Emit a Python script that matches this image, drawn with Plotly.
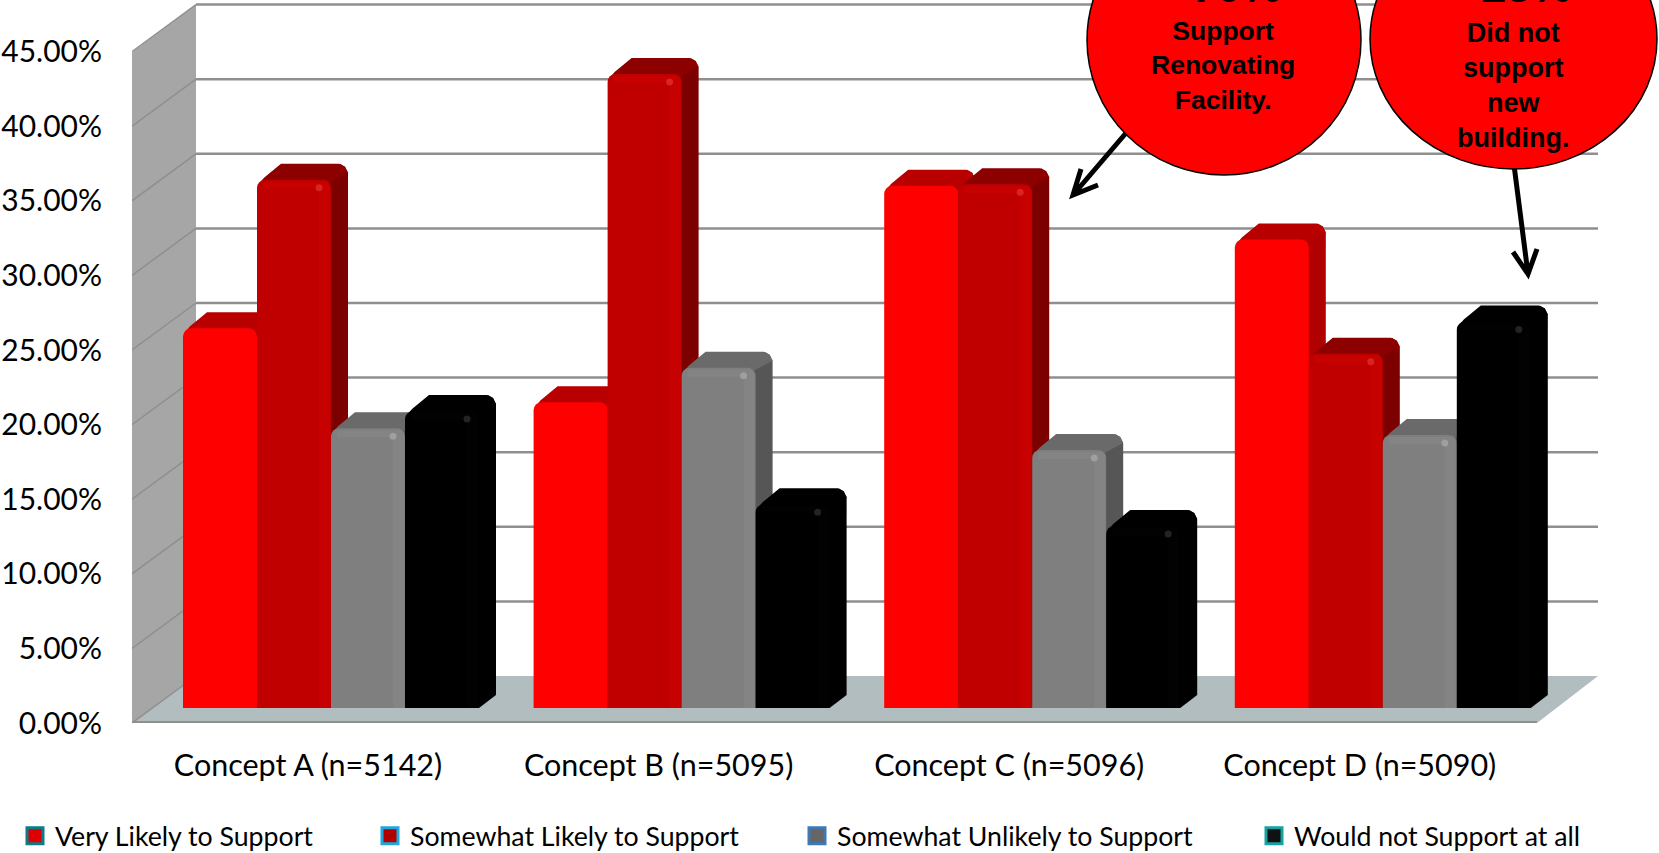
import plotly.graph_objects as go

categories = ["Concept A (n=5142)", "Concept B (n=5095)", "Concept C (n=5096)", "Concept D (n=5090)"]
series_names = ["Very Likely to Support", "Somewhat Likely to Support",
                "Somewhat Unlikely to Support", "Would not Support at all"]
very_likely = [25.45, 20.5, 35.0, 31.4]
somewhat_likely = [35.4, 42.5, 35.1, 23.75]
somewhat_unlikely = [18.75, 22.8, 17.3, 18.3]
not_at_all = [19.9, 13.65, 12.2, 25.9]
tick_values = [0, 5, 10, 15, 20, 25, 30, 35, 40, 45]
tick_labels = ["0.00%", "5.00%", "10.00%", "15.00%", "20.00%", "25.00%", "30.00%", "35.00%", "40.00%", "45.00%"]
all_series = [very_likely, somewhat_likely, somewhat_unlikely, not_at_all]

W, H = 1659, 853
FIG_H = 875  # a little taller than the window so the bottom legend keeps its place
PX_PER_UNIT = 14.92
BASE_PX = 708.0
PERIOD = 350.6
BAR_W = 74.0
GROUP_CENTER = 331.0
DX, DY = 17.0, 16.0
LEFT, FLOOR = 132, 723

front_col = ["#ff0000", "#c00000", "#7f7f7f", "#000000"]
bevel_col = ["#ff0000", "#c70000", "#848484", "#020202"]
top_col = ["#b80000", "#8c0000", "#6a6a6a", "#000000"]
side_col = ["#b00000", "#7c0000", "#565656", "#000000"]
spot_col = ["#ff0000", "#e83a3a", "#b0b0b0", "#3a3a3a"]
legend_fill = ["#e00000", "#b00000", "#666666", "#111111"]
legend_edge = ["#0e7c86", "#1fa8e0", "#3f78b5", "#17a2a2"]
legend_left = [15, 370, 797, 1254]


def X(p):
    return (p - GROUP_CENTER) / PERIOD


def Y(p):
    return (BASE_PX - p) / PX_PER_UNIT


def path(points):
    return "M" + " L".join(f"{X(a):.5f},{Y(b):.5f}" for a, b in points)


x_range = [X(LEFT), X(W)]
y_range = [Y(FLOOR), Y(0)]
dx, dy, bw = DX / PERIOD, DY / PX_PER_UNIT, BAR_W / PERIOD
px, py = 1 / PERIOD, 1 / PX_PER_UNIT

shapes = []
GRID = "#8f8f8f"
shapes.append(dict(type="path", path=path([(132, 52.6), (196, 5), (196, 676), (132, 723)]) + " Z",
                   fillcolor="#a6a6a6", line_width=0, layer="below", xref="x", yref="y"))
shapes.append(dict(type="path", path=path([(132, 723), (1537, 723), (1598, 676), (196, 676)]) + " Z",
                   fillcolor="#b2bdbf", line_width=0, layer="below", xref="x", yref="y"))
for v in tick_values:
    f = 723 - PX_PER_UNIT * v
    b = 676 - PX_PER_UNIT * v
    shapes.append(dict(type="path", path=path([(132, f), (196, b)]), line=dict(color=GRID, width=1.5),
                       layer="below", xref="x", yref="y"))
    if v > 0:
        shapes.append(dict(type="path", path=path([(196, b), (1598, b)]), line=dict(color=GRID, width=2.5),
                           layer="below", xref="x", yref="y"))
shapes.append(dict(type="path", path=path([(132, 722), (1537, 722)]), line=dict(color=GRID, width=2),
                   layer="below", xref="x", yref="y"))

ARROW = dict(color="black", width=5)
shapes.append(dict(type="path", path=path([(1126, 133), (1073, 195)]) + " " + path([(1081, 169), (1073, 195), (1098, 185)]),
                   line=ARROW, xref="x", yref="y"))
shapes.append(dict(type="path", path=path([(1514, 165), (1528, 274)]) + " " + path([(1513, 252), (1528, 274), (1537, 249)]),
                   line=ARROW, xref="x", yref="y"))
shapes.append(dict(type="circle", x0=X(1087), x1=X(1361), y0=Y(175), y1=Y(-95), fillcolor="#ff0000",
                   line=dict(color="black", width=1.5), xref="x", yref="y"))
shapes.append(dict(type="circle", x0=X(1370), x1=X(1657), y0=Y(169), y1=Y(-91), fillcolor="#ff0000",
                   line=dict(color="black", width=1.5), xref="x", yref="y"))

fig = go.Figure()

for i in range(len(categories)):
    for s, vals in enumerate(all_series):
        v = vals[i]
        x0 = i - 2 * bw + s * bw
        x1 = x0 + bw
        fig.add_trace(go.Scatter(
            x=[x1 - 10 * px, x1, x1 + dx, x1 + dx, x1 + dx - 3 * px, x1 + dx - 8 * px, x1 - 10 * px],
            y=[0, 0, 13 * py, v + dy - 9 * py, v + dy - 3 * py, v + dy, v - 10 * py],
            mode="lines", fill="toself", fillcolor=side_col[s], line=dict(width=0, color=side_col[s]),
            showlegend=False, hoverinfo="skip"))
        fig.add_trace(go.Scatter(
            x=[x0 + 2 * px, x0 + 7 * px, x0 + 24 * px, x1 + dx - 9 * px, x1 + dx - 3 * px, x1 + dx, x1, x1 - 12 * px, x0 + 2 * px],
            y=[v - 4 * py, v + 2 * py, v + dy, v + dy, v + dy - 3 * py, v + dy - 9 * py, v - 2 * py, v - 12 * py, v - 12 * py],
            mode="lines", fill="toself", fillcolor=top_col[s], line=dict(width=0, color=top_col[s]),
            showlegend=False, hoverinfo="skip"))

for s, vals in enumerate(all_series):
    fig.add_trace(go.Bar(x=list(range(len(categories))), y=vals, name=series_names[s],
                         marker=dict(color=front_col[s], line_width=0, cornerradius=8),
                         xaxis="x2", yaxis="y2", showlegend=False,
                         hovertemplate="%{y:.1f}%<extra>" + series_names[s] + "</extra>"))

for i in range(len(categories)):
    for s, vals in enumerate(all_series):
        v = vals[i]
        x0 = i - 2 * bw + s * bw
        x1 = x0 + bw
        fig.add_trace(go.Scatter(
            x=[x1 - 12 * px, x1 - 12 * px, x0 + 6 * px, x0 + 6 * px, x1 - 4 * px, x1 - 1 * px, x1 - 1 * px],
            y=[0, v - 9 * py, v - 9 * py, v - 2 * py, v - 2 * py, v - 6 * py, 0],
            mode="lines", fill="toself", fillcolor=bevel_col[s], line=dict(width=0, color=bevel_col[s]),
            xaxis="x2", yaxis="y2", showlegend=False, hoverinfo="skip"))
        fig.add_trace(go.Scatter(
            x=[x1 - 12 * px], y=[v - 8 * py], mode="markers",
            marker=dict(size=7, color=spot_col[s], opacity=0.6, line_width=0),
            xaxis="x2", yaxis="y2", showlegend=False, hoverinfo="skip"))

for s, name in enumerate(series_names):
    fig.add_trace(go.Scatter(x=[None], y=[None], mode="markers", name=name,
                             marker=dict(symbol="square", size=18, color=legend_fill[s],
                                         line=dict(color=legend_edge[s], width=3)),
                             legend="legend" if s == 0 else f"legend{s + 1}"))

legend_layouts = {}
for s, left in enumerate(legend_left):
    key = "legend" if s == 0 else f"legend{s + 1}"
    legend_layouts[key] = dict(x=(left - LEFT) / (W - LEFT), xanchor="left",
                               y=(FLOOR - 836) / FLOOR, yanchor="middle",
                               bgcolor="rgba(0,0,0,0)", borderwidth=0, itemwidth=30, itemclick=False,
                               font=dict(family="Lato", size=26.7, color="black"))

annotations = [
    dict(text="<b>&gt;70%</b>", x=X(1223), y=Y(13.5), xref="x", yref="y", yanchor="bottom", showarrow=False,
         font=dict(family="Liberation Sans", size=45, color="black")),
    dict(text="<b>&gt;25%</b>", x=X(1513), y=Y(13.5), xref="x", yref="y", yanchor="bottom", showarrow=False,
         font=dict(family="Liberation Sans", size=45, color="black")),
    dict(text="<b>Support<br>Renovating<br>Facility.</b>", x=X(1223), y=Y(65), xref="x", yref="y",
         showarrow=False, font=dict(family="Liberation Sans", size=26.5, color="black")),
    dict(text="<b>Did not<br>support<br>new<br>building.</b>", x=X(1513), y=Y(85), xref="x", yref="y",
         showarrow=False, font=dict(family="Liberation Sans", size=27, color="black")),
]

fig.update_layout(
    width=W, height=FIG_H, margin=dict(l=LEFT, r=0, t=0, b=FIG_H - FLOOR), paper_bgcolor="white", plot_bgcolor="rgba(0,0,0,0)",
    barmode="group", bargap=1 - 4 * BAR_W / PERIOD, bargroupgap=0,
    shapes=shapes, annotations=annotations, font=dict(family="Lato", color="black"),
    xaxis=dict(range=x_range, showgrid=False, zeroline=False, showline=False, ticks="", automargin=False,
               tickvals=[i + (308 - GROUP_CENTER) / PERIOD for i in range(len(categories))], ticktext=categories,
               tickfont=dict(family="Lato", size=30.5, color="black"), ticklabelstandoff=21),
    yaxis=dict(range=y_range, showgrid=False, zeroline=False, showline=False, ticks="", automargin=False,
               tickvals=[v - 15 / PX_PER_UNIT for v in tick_values], ticktext=tick_labels,
               tickfont=dict(family="Lato", size=30, color="black"), ticklabelstandoff=29),
    xaxis2=dict(range=x_range, overlaying="x", visible=False, anchor="y2", automargin=False),
    yaxis2=dict(range=y_range, overlaying="y", visible=False, anchor="x2", automargin=False),
    **legend_layouts,
)

fig.write_html("out.html", config={"displayModeBar": False},
               post_script="document.documentElement.style.overflow='hidden';document.body.style.margin='0';document.body.style.overflow='hidden';")
